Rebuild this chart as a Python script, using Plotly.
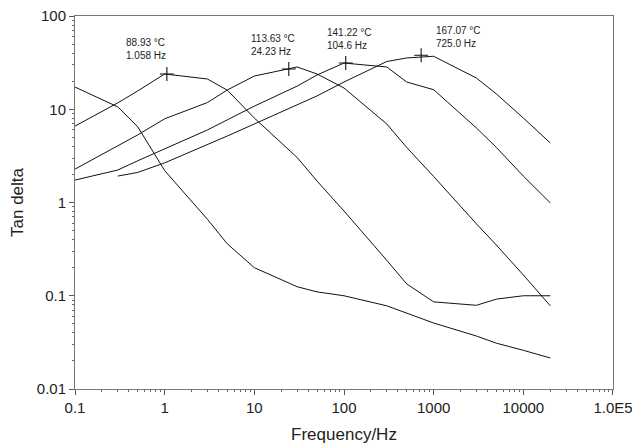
import plotly.graph_objects as go
import math

# ---- data ----
freq = [0.1, 0.3, 0.5, 1, 3, 5, 10, 30, 50, 100, 300, 500, 1000, 3000, 5000, 10000, 20000]
tan_a = [17.3, 10.6, 6.5, 2.2, 0.66, 0.36, 0.20, 0.125, 0.11, 0.10, 0.078, 0.065, 0.051, 0.037, 0.031, 0.026, 0.0215]
tan_b = [6.6, 11.7, 15.7, 23.9, 21.1, 16.0, 8.05, 3.04, 1.7, 0.81, 0.24, 0.134, 0.086, 0.079, 0.092, 0.10, 0.10]
tan_c = [2.28, 4.0, 5.3, 7.9, 11.8, 16.1, 22.7, 28.4, 23.9, 16.9, 6.95, 3.9, 1.9, 0.59, 0.35, 0.167, 0.078]
tan_d = [1.74, 2.23, 2.8, 3.75, 6.0, 7.7, 10.8, 17.7, 23.3, 31.3, 28.4, 19.6, 16.2, 6.3, 3.9, 1.92, 0.99]
freq_e = freq[1:]
tan_e = [1.92, 2.1, 2.66, 4.14, 5.17, 6.95, 11.1, 13.9, 19.6, 32.5, 35.5, 37.0, 21.6, 14.6, 8.05, 4.35]

peak_freq = [1.058, 24.23, 104.6, 725.0]
peak_tan = [23.9, 27.0, 31.3, 38.0]
peak_temp = ["88.93 °C", "113.63 °C", "141.22 °C", "167.07 °C"]
peak_label_freq = ["1.058 Hz", "24.23 Hz", "104.6 Hz", "725.0 Hz"]
# label anchor positions (frequency, tan delta) for the peak texts
label_x = [0.352, 8.7, 61.3, 1009.0]
label_y = [44.8, 48.9, 56.0, 59.6]

x_ticks = [0.1, 1, 10, 100, 1000, 10000, 100000]
x_tick_text = ["0.1", "1", "10", "100", "1000", "10000", "1.0E5"]
y_ticks = [0.01, 0.1, 1, 10, 100]
y_tick_text = ["0.01", "0.1", "1", "10", "100"]

def minor_vals(lo_exp, hi_exp):
    return [m * 10 ** e for e in range(lo_exp, hi_exp) for m in range(2, 10)]

fig = go.Figure()
line_style = dict(color="#111111", width=1.0)
for xs, ys in [(freq, tan_a), (freq, tan_b), (freq, tan_c), (freq, tan_d), (freq_e, tan_e)]:
    fig.add_trace(go.Scatter(x=xs, y=ys, mode="lines", line=line_style,
                             showlegend=False, hoverinfo="skip"))

fig.add_trace(go.Scatter(x=peak_freq, y=peak_tan, mode="markers",
                         marker=dict(symbol="cross-thin", size=10,
                                     line=dict(color="#111111", width=1.1)),
                         showlegend=False, hoverinfo="skip"))

for lx, ly, t1, t2 in zip(label_x, label_y, peak_temp, peak_label_freq):
    fig.add_annotation(x=math.log10(lx), y=math.log10(ly), xref="x", yref="y",
                       text=t1 + "<br>" + t2, showarrow=False,
                       xanchor="left", yanchor="middle", align="left",
                       font=dict(family="Liberation Sans, Arial", size=10, color="#222222"))

font_ticks = dict(family="Liberation Sans, Arial", size=15, color="#222222")
font_title = dict(family="Liberation Sans, Arial", size=17, color="#222222")

axis_common = dict(type="log", showgrid=False, zeroline=False, automargin=False,
                   showline=True, linecolor="#777777", linewidth=1, mirror=True,
                   ticks="outside", ticklen=5, tickcolor="#555555", tickwidth=1,
                   tickfont=font_ticks, ticklabeloverflow="allow")

fig.update_xaxes(range=[-1, 5.0001], tickmode="array", tickvals=x_ticks, ticktext=x_tick_text,
                 minor=dict(tickmode="array", tickvals=minor_vals(-1, 5), ticks="outside",
                            ticklen=2, tickcolor="#666666", showgrid=False),
                 title=dict(text="Frequency/Hz", font=font_title, standoff=14),
                 **axis_common)
fig.update_yaxes(range=[-2, 2], tickmode="array", tickvals=y_ticks, ticktext=y_tick_text,
                 minor=dict(tickmode="array", tickvals=minor_vals(-2, 2), ticks="outside",
                            ticklen=2, tickcolor="#666666", showgrid=False),
                 title=dict(text="Tan delta", font=font_title, standoff=8),
                 **axis_common)

fig.update_layout(width=632, height=444, margin=dict(l=75, r=19, t=16, b=55),
                  plot_bgcolor="white", paper_bgcolor="white")

fig.write_html("out.html")
